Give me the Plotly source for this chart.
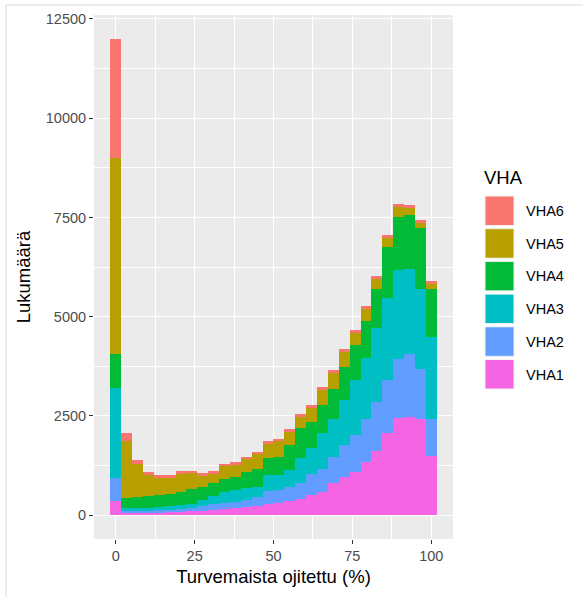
import plotly.graph_objects as go

bin_centers = [0, 3.45, 6.90, 10.34, 13.79, 17.24, 20.69, 24.14, 27.59, 31.03,
               34.48, 37.93, 41.38, 44.83, 48.28, 51.72, 55.17, 58.62, 62.07, 65.52,
               68.97, 72.41, 75.86, 79.31, 82.76, 86.21, 89.66, 93.10, 96.55, 100]
bin_width = 3.448

vha1 = [350, 60, 60, 65, 70, 75, 85, 95, 110, 140, 150, 170, 210, 230, 290, 310, 350, 420, 520, 590,
        800, 965, 1090, 1345, 1620, 2060, 2455, 2480, 2435, 1495]
vha2 = [580, 40, 45, 45, 50, 55, 65, 75, 110, 140, 160, 165, 170, 230, 310, 320, 365, 380, 530, 585,
        670, 800, 925, 1090, 1235, 1340, 1470, 1570, 1260, 940]
vha3 = [2270, 70, 75, 80, 90, 100, 110, 120, 160, 200, 280, 295, 310, 255, 400, 380, 420, 630, 650, 885,
        965, 1135, 1385, 1515, 1850, 2060, 2250, 2150, 2015, 2060]
vha4 = [850, 270, 280, 300, 310, 315, 330, 360, 330, 320, 330, 320, 410, 455, 440, 460, 630, 755, 650, 710,
        755, 840, 885, 940, 1005, 1285, 1325, 1360, 1515, 1200]
vha5 = [4950, 1440, 840, 510, 420, 405, 450, 410, 285, 250, 320, 320, 305, 360, 365, 400, 320, 295, 350, 380,
        380, 360, 295, 300, 230, 225, 255, 170, 125, 125]
vha6 = [3000, 200, 90, 100, 60, 50, 70, 60, 60, 65, 60, 60, 70, 70, 60, 60, 75, 60, 80, 85,
        85, 85, 80, 85, 85, 85, 85, 85, 85, 85]

series_names = ["VHA1", "VHA2", "VHA3", "VHA4", "VHA5", "VHA6"]
series_values = [vha1, vha2, vha3, vha4, vha5, vha6]
colors = ["#F564E3", "#619CFF", "#00BFC4", "#00BA38", "#B79F00", "#F8766D"]

x_ticks = [0, 25, 50, 75, 100]
y_ticks = [0, 2500, 5000, 7500, 10000, 12500]

W, H = 583, 597
L, R, T, B = 94, 130, 15, 58
PW = W - L - R
PH = H - T - B


def px(xp):
    return (xp - L) / PW


def py(yp):
    return (H - B - yp) / PH


fig = go.Figure()
for name, vals, col in zip(series_names, series_values, colors):
    fig.add_trace(go.Bar(
        x=bin_centers, y=vals, width=bin_width, name=name,
        marker=dict(color=col, line=dict(width=0)),
        showlegend=False,
    ))

font_family = "Liberation Sans, Arial, sans-serif"

fig.update_layout(
    width=W, height=H,
    margin=dict(l=L, r=R, t=T, b=B),
    barmode="stack", bargap=0,
    paper_bgcolor="white",
    plot_bgcolor="#EBEBEB",
    font=dict(family=font_family, color="#4D4D4D", size=14),
    xaxis=dict(
        range=[-6.9, 106.9],
        tickvals=x_ticks,
        ticktext=[str(v) for v in x_ticks],
        ticks="outside", ticklen=4, tickcolor="#333333", tickwidth=1,
        tickfont=dict(size=14.5, color="#4D4D4D"),
        showgrid=True, gridcolor="white", gridwidth=1.4,
        minor=dict(tickvals=[12.5, 37.5, 62.5, 87.5], showgrid=True,
                   gridcolor="white", gridwidth=0.7, ticks=""),
        zeroline=False, showline=False,
        title=dict(text="Turvemaista ojitettu (%)",
                   font=dict(size=18.5, color="black"), standoff=6),
    ),
    yaxis=dict(
        range=[-600, 12600],
        tickvals=y_ticks,
        ticktext=[str(v) for v in y_ticks],
        ticks="outside", ticklen=4, tickcolor="#333333", tickwidth=1,
        tickfont=dict(size=14.5, color="#4D4D4D"),
        showgrid=True, gridcolor="white", gridwidth=1.4,
        minor=dict(tickvals=[1250, 3750, 6250, 8750, 11250], showgrid=True,
                   gridcolor="white", gridwidth=0.7, ticks=""),
        zeroline=False, showline=False,
        title=dict(text="Lukumäärä", font=dict(size=18.5, color="black"), standoff=10),
    ),
)

shapes = []
annotations = []
# outer frame lines (top and left)
shapes.append(dict(type="line", xref="paper", yref="paper",
                   x0=px(6), x1=px(583), y0=py(5), y1=py(5),
                   line=dict(color="#D9D9D9", width=1)))
shapes.append(dict(type="line", xref="paper", yref="paper",
                   x0=px(6), x1=px(6), y0=py(5), y1=py(597),
                   line=dict(color="#D9D9D9", width=1)))

# manual legend
annotations.append(dict(text="VHA", xref="paper", yref="paper",
                        x=px(482), y=py(177), xanchor="left", yanchor="middle",
                        showarrow=False, font=dict(size=18.5, color="black", family=font_family)))
legend_order = list(zip(series_names, colors))[::-1]
for i, (name, col) in enumerate(legend_order):
    top = 196 + i * 32.7
    shapes.append(dict(type="rect", xref="paper", yref="paper",
                       x0=px(485), x1=px(514), y0=py(top), y1=py(top + 29.5),
                       fillcolor=col, line=dict(color="#F2F2F2", width=1)))
    annotations.append(dict(text=name, xref="paper", yref="paper",
                            x=px(524), y=py(top + 15), xanchor="left", yanchor="middle",
                            showarrow=False, font=dict(size=14.5, color="black", family=font_family)))

fig.update_layout(shapes=shapes, annotations=annotations)
fig.write_html("out.html")
